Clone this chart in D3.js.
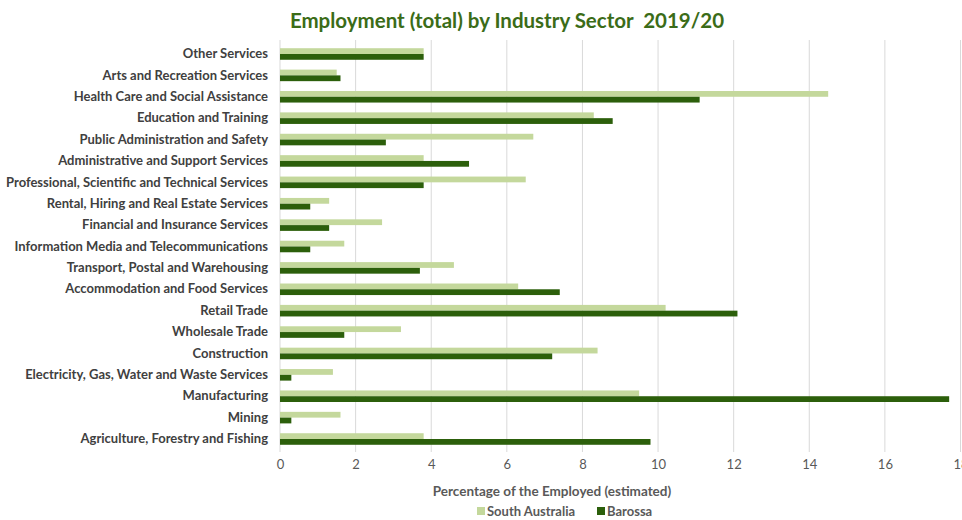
<!DOCTYPE html>
<html>
<head>
<meta charset="utf-8">
<script src="https://cdn.jsdelivr.net/npm/d3@7"></script>
<style>
  html, body { margin: 0; padding: 0; background: #fff; }
  svg { display: block; font-family: Lato, "Open Sans", sans-serif; }
  text { white-space: pre; }
</style>
</head>
<body>
<svg id="chart" width="962" height="520"></svg>
<script>
const categories = [
  "Other Services",
  "Arts and Recreation Services",
  "Health Care and Social Assistance",
  "Education and Training",
  "Public Administration and Safety",
  "Administrative and Support Services",
  "Professional, Scientific and Technical Services",
  "Rental, Hiring and Real Estate Services",
  "Financial and Insurance Services",
  "Information Media and Telecommunications",
  "Transport, Postal and Warehousing",
  "Accommodation and Food Services",
  "Retail Trade",
  "Wholesale Trade",
  "Construction",
  "Electricity, Gas, Water and Waste Services",
  "Manufacturing",
  "Mining",
  "Agriculture, Forestry and Fishing"
];
const southAustralia = [3.8, 1.5, 14.5, 8.3, 6.7, 3.8, 6.5, 1.3, 2.7, 1.7, 4.6, 6.3, 10.2, 3.2, 8.4, 1.4, 9.5, 1.6, 3.8];
const barossa        = [3.8, 1.6, 11.1, 8.8, 2.8, 5.0, 3.8, 0.8, 1.3, 0.8, 3.7, 7.4, 12.1, 1.7, 7.2, 0.3, 17.7, 0.3, 9.8];
const seriesNames = ["South Australia", "Barossa"];
const xTicks = [0, 2, 4, 6, 8, 10, 12, 14, 16, 18];
const titleText = "Employment (total) by Industry Sector  2019/20";
const xTitle = "Percentage of the Employed (estimated)";

const colors = { "South Australia": "#c4d89c", "Barossa": "#2c5f0b" };

const svg = d3.select("#chart");

const x = d3.scaleLinear().domain([0, 18]).range([280, 960.5]);
const y = d3.scaleBand().domain(categories).range([43.3, 449.7]).paddingInner(0.46).paddingOuter(0.23);
const ySub = d3.scaleBand().domain(seriesNames).range([0, y.bandwidth()]).padding(0);

// grid
svg.append("g").selectAll("line").data(xTicks).join("line")
  .attr("x1", d => x(d)).attr("x2", d => x(d))
  .attr("y1", 40).attr("y2", 452)
  .attr("stroke", "#d9d9d9").attr("stroke-width", 1);

// bars
const rows = categories.map((c, i) => ({ cat: c, vals: [
  { s: "South Australia", v: southAustralia[i] },
  { s: "Barossa", v: barossa[i] }
]}));
const g = svg.append("g").selectAll("g").data(rows).join("g")
  .attr("transform", d => `translate(0,${y(d.cat)})`);
g.selectAll("rect").data(d => d.vals).join("rect")
  .attr("x", x(0))
  .attr("y", d => ySub(d.s))
  .attr("width", d => x(d.v) - x(0))
  .attr("height", ySub.bandwidth())
  .attr("fill", d => colors[d.s]);

// y labels
const yAxis = d3.axisLeft(y).tickSize(0).tickPadding(12);
const ya = svg.append("g").attr("transform", `translate(${x(0)},0)`).call(yAxis);
ya.select(".domain").remove();
ya.selectAll("text")
  .attr("font-family", "Lato, sans-serif")
  .attr("font-size", 13).attr("font-weight", "bold").attr("fill", "#404040");

// x axis
const xAxis = d3.axisBottom(x).tickValues(xTicks).tickSize(0).tickPadding(8).tickFormat(d3.format("d"));
const xa = svg.append("g").attr("transform", `translate(0,452)`).call(xAxis);
xa.select(".domain").remove();
xa.selectAll("text")
  .attr("font-family", "Lato, sans-serif")
  .attr("font-size", 13).attr("fill", "#595959");

// title
svg.append("text").attr("x", 507).attr("y", 28).attr("text-anchor", "middle")
  .attr("font-family", "Lato, sans-serif")
  .attr("font-size", 20.5).attr("font-weight", "bold").attr("fill", "#3b6c18")
  .attr("xml:space", "preserve")
  .text(titleText);

// x title
svg.append("text").attr("x", 552).attr("y", 496).attr("text-anchor", "middle")
  .attr("font-family", "Lato, sans-serif")
  .attr("font-size", 13.5).attr("font-weight", "bold").attr("fill", "#595959")
  .text(xTitle);

// legend
const legendX = [477, 597];
const lg = svg.append("g").selectAll("g").data(seriesNames).join("g")
  .attr("transform", (d, i) => `translate(${legendX[i]},516)`);
lg.append("rect").attr("x", 0).attr("y", -9).attr("width", 8).attr("height", 8)
  .attr("fill", d => colors[d]);
lg.append("text").attr("x", 10).attr("y", 0)
  .attr("font-family", "Lato, sans-serif")
  .attr("font-size", 13).attr("font-weight", "bold").attr("fill", "#595959")
  .text(d => d);
</script>
</body>
</html>
